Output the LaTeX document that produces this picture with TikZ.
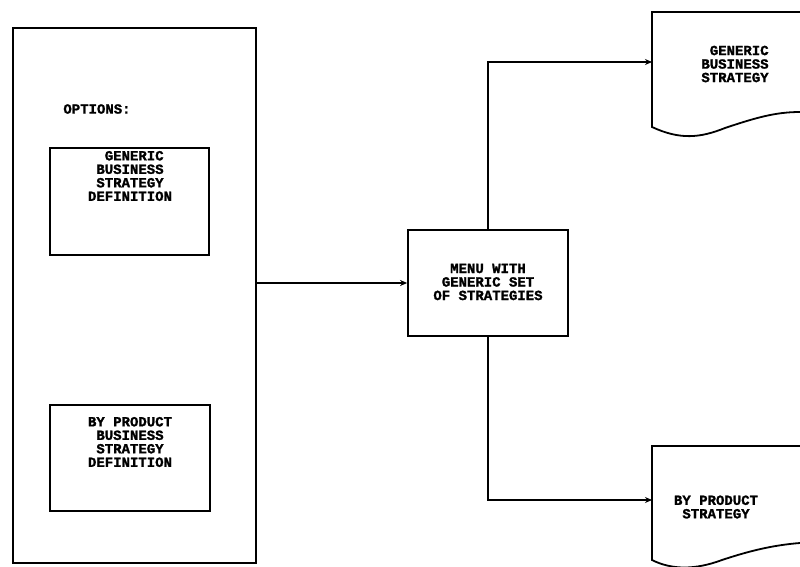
\documentclass[tikz,border=0pt]{standalone}
\usepackage{fontspec}
\newfontfamily\dotfont[FakeBold=1.5]{Liberation Mono}
\usetikzlibrary{arrows.meta}
\begin{document}
\begin{tikzpicture}[x=1pt,y=-1pt,
  box/.style={draw, line width=1.8pt, inner sep=0pt},
  lab/.style={font=\dotfont\bfseries\fontsize{14}{13.5}\selectfont, align=center, inner sep=0pt},
  conn/.style={line width=1.8pt, -{Stealth[length=7pt,width=6pt]}}]
\useasboundingbox (0,0) rectangle (800,567);
\node[box, minimum width=243pt, minimum height=535pt] (big) at (134.5,295.5) {};
\node[lab] (opt) at (97,109) {OPTIONS:};
\node[box, minimum width=159pt, minimum height=107pt] (b1) at (129.5,201.5) {};
\node[lab] (t1) at (130,176) {\ GENERIC\\BUSINESS\\STRATEGY\\DEFINITION};
\node[box, minimum width=160pt, minimum height=106pt] (b2) at (130,458) {};
\node[lab] (t2) at (130,442) {BY PRODUCT\\BUSINESS\\STRATEGY\\DEFINITION};
\node[box, minimum width=160pt, minimum height=106pt] (menu) at (488,283) {};
\node[lab] (tm) at (488,282) {MENU WITH\\GENERIC SET\\OF STRATEGIES};
% documents
\draw[line width=1.8pt] (800,12) -- (652,12) -- (652,127)
  .. controls (680,140) and (700,138) .. (725,128)
  .. controls (755,118) and (775,112) .. (800,112);
\draw[line width=1.8pt] (800,446) -- (652,446) -- (652,560)
  .. controls (672,570) and (695,570) .. (722,560)
  .. controls (752,550) and (775,545) .. (800,543);
\coordinate (d1) at (652,62);
\coordinate (d2) at (652,500);
\node[lab] (td1) at (735,64) {\ GENERIC\\BUSINESS\\STRATEGY};
\node[lab] (td2) at (716,507) {BY PRODUCT\\STRATEGY};
% connectors
\draw[conn] (menu.west -| big.east) -- (menu.west);
\draw[conn] (menu.north) |- (d1);
\draw[conn] (menu.south) |- (d2);
\end{tikzpicture}
\end{document}
